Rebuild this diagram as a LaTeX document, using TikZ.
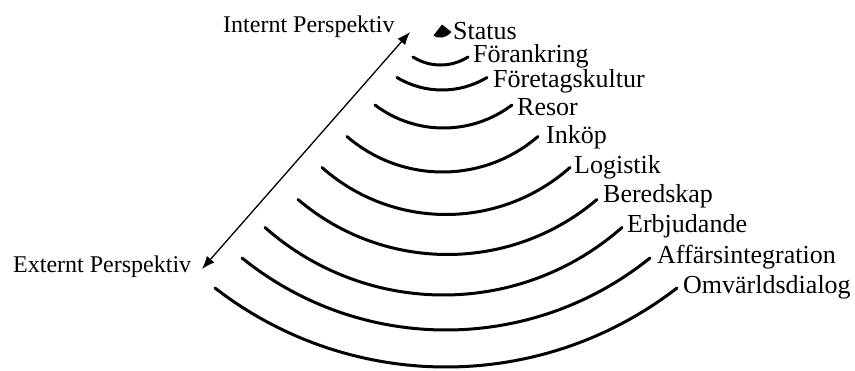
\documentclass[tikz,border=0pt]{standalone}
\usepackage{fontspec}
\setmainfont{Liberation Serif}
\usetikzlibrary{arrows.meta}
\begin{document}
\begin{tikzpicture}[x=1pt,y=-1pt,
  ring/.style={line width=3pt,line cap=round},
  lbl/.style={anchor=base west,inner sep=0pt,font=\fontsize{26}{30}\selectfont},
  persp/.style={anchor=base west,inner sep=0pt,font=\fontsize{24}{28}\selectfont},
  axis/.style={line width=1.3pt,{Latex[length=13pt,width=10pt]}-{Latex[length=13pt,width=10pt]}}]
\useasboundingbox (0,0) rectangle (855,370);

% rings, inner to outer: centre x / end height / half chord / sag
\foreach \cx/\ye/\h/\s in {440.5/57/27.5/8, 442/77.5/45/12.5, 443.5/105/68.5/23,
    442.5/136.5/95.5/35.5, 446/167.5/124/47, 447.5/199.5/149.5/55,
    443.5/227.5/178.5/67.5, 446/258/204/72, 446/288/231/79}{
  % radius from chord and sag, worked in hundreds to keep numbers small
  \pgfmathsetmacro\hh{\h/100}
  \pgfmathsetmacro\ss{\s/100}
  \pgfmathsetmacro\r{100*(\hh*\hh+\ss*\ss)/(2*\ss)}
  \pgfmathsetmacro\a{asin(\h/\r)}
  \draw[ring] (\cx-\h,\ye) arc[start angle=90+\a, end angle=90-\a, radius=\r];
}

% apex of the fan
\fill (442,24.5) -- (433.5,35.5) .. controls (437,39) and (446,38.5) .. (451.5,32) -- cycle;

% ring labels
\node[lbl] (status) at (453,39) {Status};
\node[lbl] (forankring) at (473,62) {Förankring};
\node[lbl] (kultur) at (493,87) {Företagskultur};
\node[lbl] (resor) at (517,115) {Resor};
\node[lbl] (inkop) at (546,143) {Inköp};
\node[lbl] (logistik) at (574,173) {Logistik};
\node[lbl] (beredskap) at (603,202) {Beredskap};
\node[lbl] (erbjudande) at (627,232) {Erbjudande};
\node[lbl] (affars) at (657,263) {Affärsintegration};
\node[lbl] (omvarld) at (683,293) {Omvärldsdialog};

% perspective axis
\node[persp] (intern) at (223,32) {Internt Perspektiv};
\node[persp] (extern) at (13,272) {Externt Perspektiv};
\coordinate (innerend) at (410,32);
\coordinate (outerend) at (202,269);
\draw[axis] (outerend) -- (innerend);
\end{tikzpicture}
\end{document}
